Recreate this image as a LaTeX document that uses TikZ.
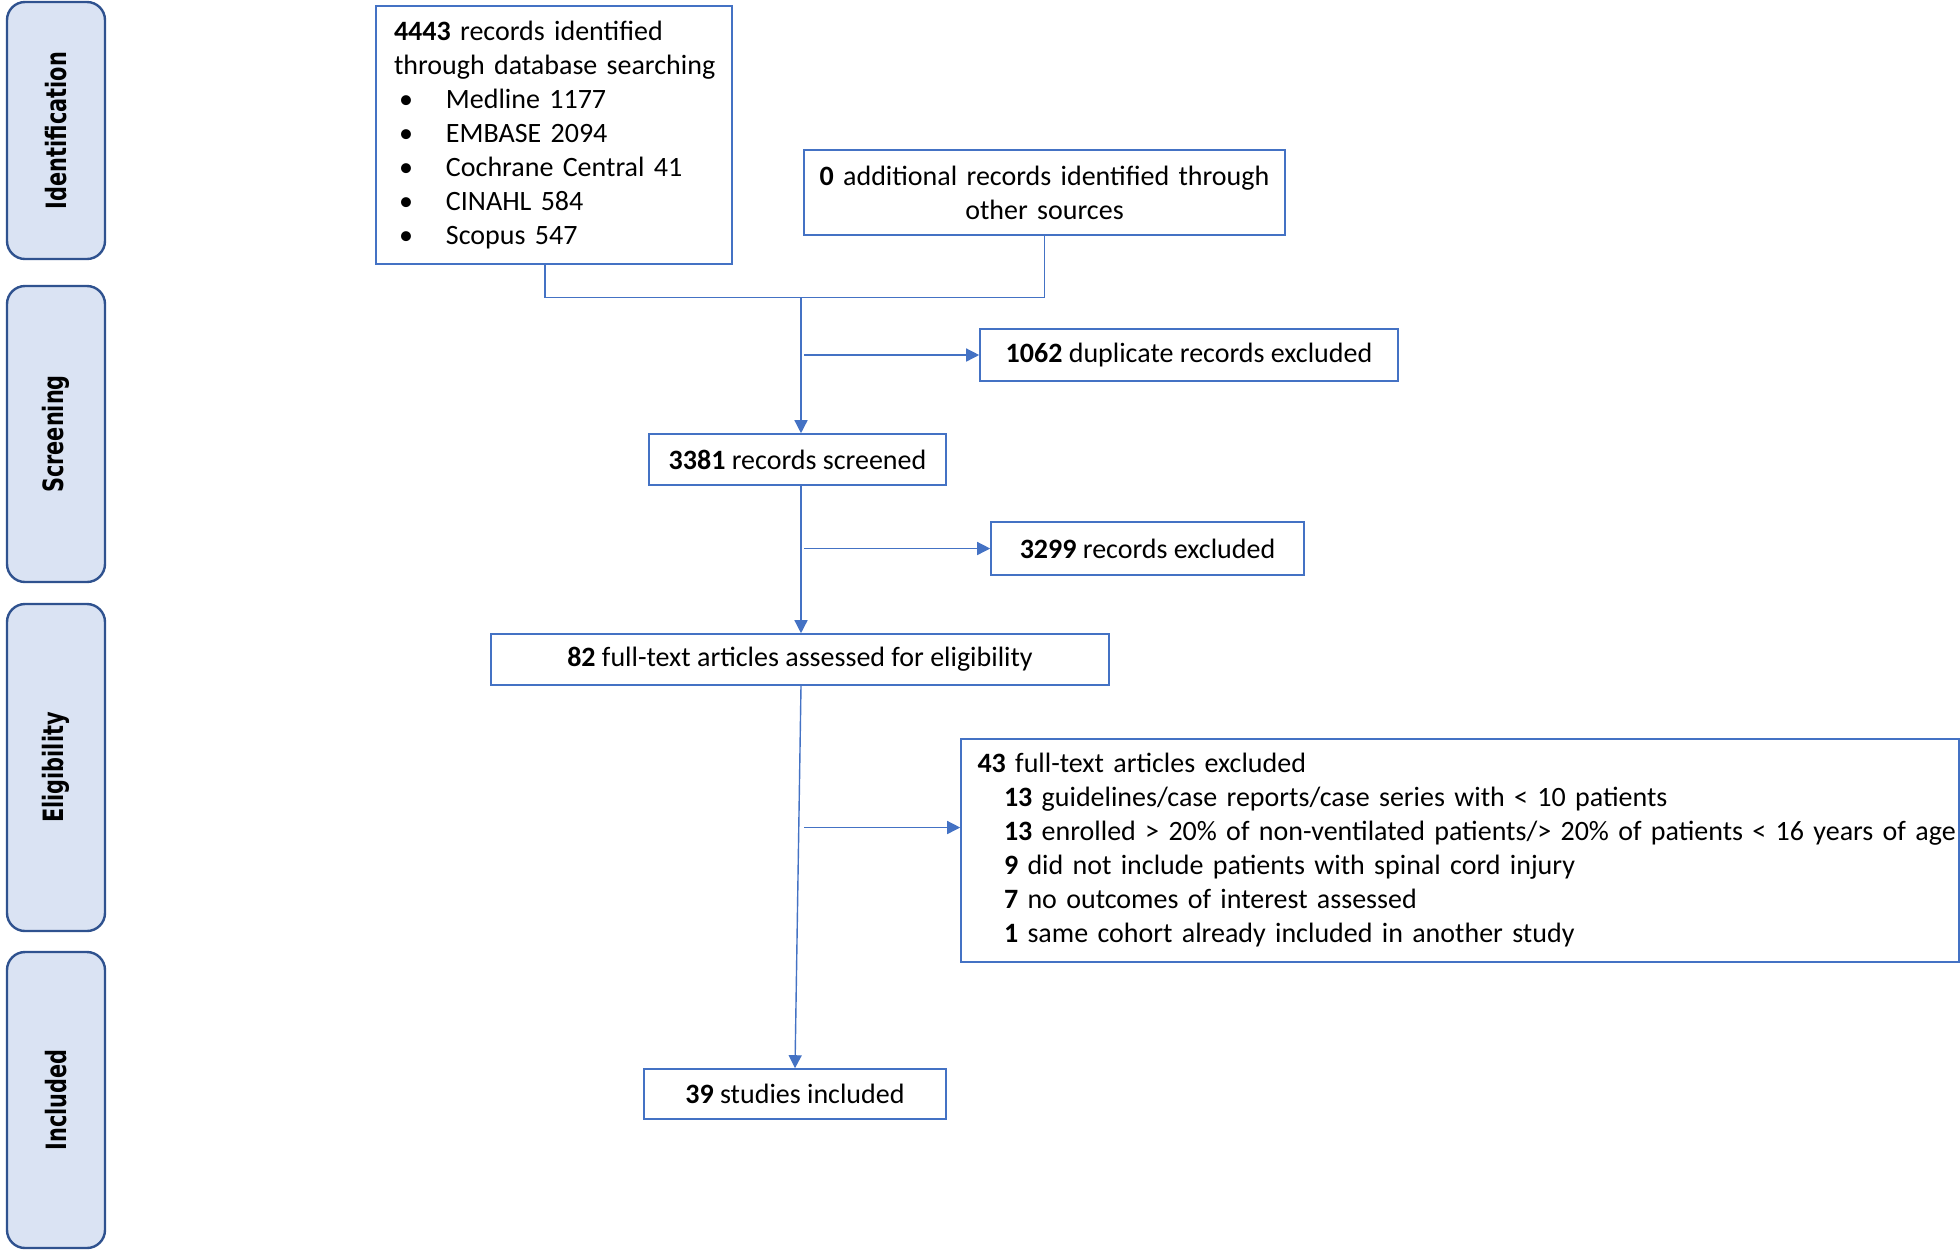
\documentclass[tikz,border=0pt]{standalone}
\usepackage{fontspec}
\usepackage{graphicx}
\setmainfont{Carlito}
\newfontfamily\tightfont{Carlito}[WordSpace=0.72]
\newfontfamily\sidefont{DejaVu Sans}
\usetikzlibrary{arrows.meta}
\definecolor{boxblue}{HTML}{4472C4}
\definecolor{barfill}{HTML}{DAE3F3}
\definecolor{barline}{HTML}{2F528F}
\newcommand\bul{\hspace*{2.5pt}\makebox[23.5pt][l]{•}}
\newcommand\sublabel[1]{\scalebox{0.745}[1]{#1}}
\newcommand\subline[1]{\mbox{\hspace*{13.25pt}#1}}
\tikzset{
  flowbox/.style={draw=boxblue, line width=0.8pt, fill=white, inner sep=0pt,
    font=\fontsize{14}{17}\selectfont},
  phasebar/.style={draw=barline, line width=1.2pt, fill=barfill, rounded corners=9pt,
    rotate=90, inner sep=0pt, minimum height=49pt,
    font=\sidefont\bfseries\fontsize{14}{14}\selectfont},
  link/.style={draw=boxblue, line width=0.7pt},
  arrowlink/.style={link, -{Triangle[length=6.5pt,width=6.5pt]}},
}
\begin{document}
\begin{tikzpicture}[x=0.5pt,y=-0.5pt]
\useasboundingbox (0,0) rectangle (1960,1250);

% phase bars
\node[phasebar, minimum width=128.5pt] (pid) at (56,130.5) {\sublabel{Identification}};
\node[phasebar, minimum width=148pt] (psc) at (56,434) {\sublabel{Screening}};
\node[phasebar, minimum width=163.5pt] (pel) at (56,767.5) {\sublabel{Eligibility}};
\node[phasebar, minimum width=148pt] (pin) at (56,1100) {\sublabel{Included}};

% boxes
\node[flowbox, minimum width=178pt, minimum height=129pt, text width=160pt, align=left] (A) at (554,135)
  {\mbox{\textbf{4443} records identified}\\
   \mbox{through database searching}\\
   \mbox{\bul Medline 1177}\\
   \mbox{\bul EMBASE 2094}\\
   \mbox{\bul Cochrane Central 41}\\
   \mbox{\bul CINAHL 584}\\
   \mbox{\bul Scopus 547}};
\node[flowbox, minimum width=240.5pt, minimum height=42.5pt, text width=235pt, align=center] (B) at (1044.5,192.5)
  {\mbox{\textbf{0} additional records identified through}\\other sources};
\node[flowbox, minimum width=209pt, minimum height=26pt, align=center] (C) at (1189,355)
  {\textbf{1062} duplicate records excluded};
\node[flowbox, minimum width=148.5pt, minimum height=25.5pt, align=center] (D) at (797.5,459.5)
  {\textbf{3381} records screened};
\node[flowbox, minimum width=156.5pt, minimum height=26.5pt, align=center] (E) at (1147.5,548.5)
  {\textbf{3299} records excluded};
\node[flowbox, minimum width=309pt, minimum height=25.5pt, align=center] (F) at (800,659.5)
  {\textbf{82} full-text articles assessed for eligibility};
\node[flowbox, minimum width=499pt, minimum height=111.5pt, text width=482.5pt, align=left,
      font=\tightfont\fontsize{14}{17}\selectfont] (G) at (1460,850.5)
  {\mbox{\textbf{43} full-text articles excluded}\\
   \subline{\textbf{13} guidelines/case reports/case series with < 10 patients}\\
   \subline{\textbf{13} enrolled > 20\% of non-ventilated patients/> 20\% of patients < 16 years of age}\\
   \subline{\textbf{9} did not include patients with spinal cord injury}\\
   \subline{\textbf{7} no outcomes of interest assessed}\\
   \subline{\textbf{1} same cohort already included in another study}};
\node[flowbox, minimum width=151pt, minimum height=25pt, align=center] (H) at (795,1094)
  {\textbf{39} studies included};

% connectors
\coordinate (j) at (801,297.5);
\coordinate (gy) at (804,827.5);
\draw[link] ([xshift=-4.5pt]A.south) |- (j);
\draw[link] (B.south) |- (j);
\draw[arrowlink] (j) -- (D.north -| j);
\draw[arrowlink] ([xshift=1.5pt]j |- C.west) -- (C.west);
\draw[arrowlink] (D.south -| j) -- (F.north -| j);
\draw[arrowlink] ([xshift=1.5pt]j |- E.west) -- (E.west);
\draw[arrowlink] (gy) -- (gy -| G.west);
\draw[arrowlink] (F.south -| j) -- (H.north);
\end{tikzpicture}
\end{document}
